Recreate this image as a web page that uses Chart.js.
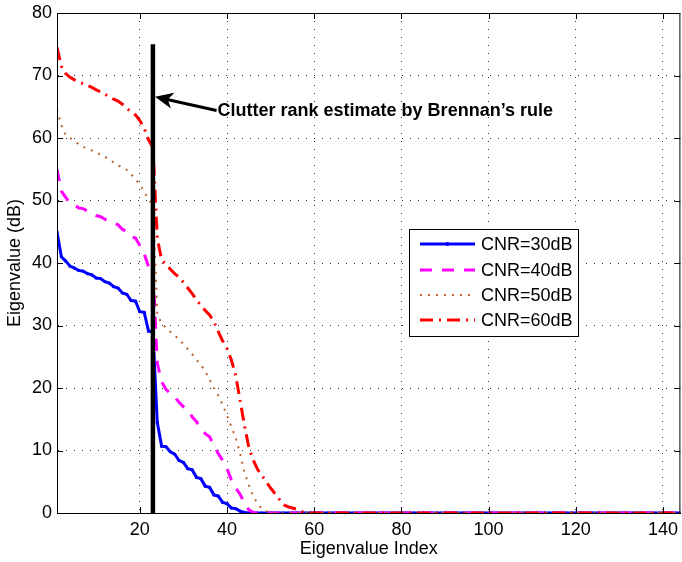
<!DOCTYPE html>
<html><head><meta charset="utf-8">
<script src="https://cdn.jsdelivr.net/npm/chart.js@4"></script>
<style>html,body{margin:0;padding:0;background:#fff}#wrap{width:682px;height:562px}</style>
</head><body><div id="wrap"><canvas id="c" width="682" height="562"></canvas></div>
<script>
const seriesLabels = ['CNR=30dB','CNR=40dB','CNR=50dB','CNR=60dB'];
const cnr30 = [45,41,40.3,39.5,39.2,38.8,38.7,38.3,38.1,37.6,37.5,37.0,36.8,36.2,36.0,35.2,35.0,34.0,33.9,32.2,32.1,29.1,29.0,14.5,10.7,10.6,9.8,9.4,8.4,8.1,7.1,6.9,5.7,5.5,4.3,4.1,2.9,2.7,1.7,1.5,0.8,0.7,0.3,0.1,0,
0,0,0,0,0,0,0,0,0,0,
0,0,0,0,0,0,0,0,0,0,
0,0,0,0,0,0,0,0,0,0,
0,0,0,0,0,0,0,0,0,0,
0,0,0,0,0,0,0,0,0,0,
0,0,0,0,0,0,0,0,0,0,
0,0,0,0,0,0,0,0,0,0,
0,0,0,0,0,0,0,0,0,0,
0,0,0,0,0,0,0,0,0,0,
0,0,0,0,0,0,0,0,0];
const cnr40 = [55,51.5,50.5,49.5,49.3,48.8,48.7,48.3,48.0,47.6,47.4,47.0,46.6,46.4,46.1,45.4,45.0,44.2,44.0,42.8,41.5,39.4,39.2,24.0,21.0,19.8,19.1,18.6,17.7,17.0,16.5,15.4,14.6,13.5,12.7,12.2,10.8,9.5,8.4,7.1,5.3,4.0,3.0,1.6,0.5,0.1,0,
0,0,0,0,0,0,0,0,0,0,
0,0,0,0,0,0,0,0,0,0,
0,0,0,0,0,0,0,0,0,0,
0,0,0,0,0,0,0,0,0,0,
0,0,0,0,0,0,0,0,0,0,
0,0,0,0,0,0,0,0,0,0,
0,0,0,0,0,0,0,0,0,0,
0,0,0,0,0,0,0,0,0,0,
0,0,0,0,0,0,0,0,0,0,
0,0,0,0,0,0,0];
const cnr50 = [64.5,62,60.5,60,59.5,59,58.6,58.3,58,57.7,57.3,57,56.5,56.1,55.7,55.2,54.9,54.2,53.4,52.6,51.4,50.2,49.3,32,30.2,29.7,29.0,28.4,27.8,27.0,26.2,25.4,24.5,23.7,22.7,21.3,20.0,18.8,17.3,15.6,13.8,12.0,9.5,6.5,4.5,2.7,1.5,0.7,0.3,0.1,0,
0,0,0,0,0,0,0,0,0,0,
0,0,0,0,0,0,0,0,0,0,
0,0,0,0,0,0,0,0,0,0,
0,0,0,0,0,0,0,0,0,0,
0,0,0,0,0,0,0,0,0,0,
0,0,0,0,0,0,0,0,0,0,
0,0,0,0,0,0,0,0,0,0,
0,0,0,0,0,0,0,0,0,0,
0,0,0,0,0,0,0,0,0,0,
0,0,0];
const cnr60 = [74.5,71.5,70.3,69.7,69.3,69.0,68.7,68.4,68.1,67.7,67.4,67.0,66.6,66.2,65.9,65.4,64.8,64.1,63.7,62.8,61.6,59.7,58.5,44,40.5,39.8,39.0,38.3,37.7,36.9,36.0,35.1,34.1,33.2,32.4,31.7,30.6,29.0,27.5,26.3,24.5,22.0,18.0,14.0,10.5,8.5,7.0,6.0,5.0,4.0,3.1,2.2,1.3,1.0,0.8,0.6,0.3,0,
0,0,0,0,0,0,0,0,0,0,
0,0,0,0,0,0,0,0,0,0,
0,0,0,0,0,0,0,0,0,0,
0,0,0,0,0,0,0,0,0,0,
0,0,0,0,0,0,0,0,0,0,
0,0,0,0,0,0,0,0,0,0,
0,0,0,0,0,0,0,0,0,0,
0,0,0,0,0,0,0,0,0,0,
0,0,0,0,0,0];
const rankIndex = 23;
const rankLineTop = 75;
const xTicks = [20,40,60,80,100,120,140];
const yTicks = [0,10,20,30,40,50,60,70,80];
const xRange = [1,144];
const yRange = [0,80];
const annotationText = 'Clutter rank estimate by Brennan\u2019s rule';
const arrowTip = {x:23.5, y:66.6};
const arrowTail = {x:37.6, y:64.4};
const xTitle = 'Eigenvalue Index';
const yTitle = 'Eigenvalue (dB)';

const toPts = v => v.map((y,i)=>({x:i+1,y}));

const styles = [
  {color:'#0000ff', dash:[], width:3, point:1.6},
  {color:'#ff00ff', dash:[12,10], width:3, point:0},
  {color:'#c06030', dash:[2,6], width:2, point:0},
  {color:'#ff0000', dash:[13,6,2,6], width:3, point:0}
];
const seriesValues = [cnr30,cnr40,cnr50,cnr60];
const datasets = seriesValues.map((v,k)=>({
  label: seriesLabels[k],
  data: toPts(v),
  borderColor: styles[k].color,
  backgroundColor: styles[k].color,
  borderDash: styles[k].dash,
  borderWidth: styles[k].width,
  pointRadius: styles[k].point,
  pointBorderWidth: 0,
  pointHoverRadius: 0,
  tension: 0,
  fill: false,
  order: 4-k
}));
datasets.push({
  label: 'rank',
  data: [{x:rankIndex,y:0},{x:rankIndex,y:rankLineTop}],
  borderColor:'#000', borderWidth:4.5, pointRadius:0, order:0, isRank:true
});

const FONT = '"Liberation Sans", Arial, Helvetica, sans-serif';

const boxPlugin = {
  id:'box',
  afterDatasetsDraw(chart){
    const {ctx, chartArea:a, scales:{x,y}} = chart;
    ctx.save();
    ctx.strokeStyle='#000'; ctx.lineWidth=1; ctx.setLineDash([]);
    ctx.strokeRect(a.left+0.5, a.top+0.5, a.right-a.left-1, a.bottom-a.top);
    ctx.beginPath();
    xTicks.forEach(v=>{const px=Math.round(x.getPixelForValue(v))+0.5;
      ctx.moveTo(px,a.bottom); ctx.lineTo(px,a.bottom-6);
      ctx.moveTo(px,a.top); ctx.lineTo(px,a.top+6);});
    yTicks.forEach(v=>{const py=Math.round(y.getPixelForValue(v))+0.5;
      ctx.moveTo(a.left,py); ctx.lineTo(a.left+6,py);
      ctx.moveTo(a.right,py); ctx.lineTo(a.right-6,py);});
    ctx.stroke();

    // annotation arrow
    const tx=x.getPixelForValue(arrowTip.x), ty=y.getPixelForValue(arrowTip.y);
    const sx=x.getPixelForValue(arrowTail.x), sy=y.getPixelForValue(arrowTail.y);
    const dx=tx-sx, dy=ty-sy, L=Math.hypot(dx,dy), ux=dx/L, uy=dy/L, nx=-uy, ny=ux;
    const hl=18, hw=8;
    ctx.lineWidth=3; ctx.lineCap='butt';
    ctx.beginPath(); ctx.moveTo(sx,sy); ctx.lineTo(tx-ux*10,ty-uy*10); ctx.stroke();
    ctx.fillStyle='#000';
    ctx.beginPath();
    ctx.moveTo(tx,ty);
    ctx.lineTo(tx-ux*hl+nx*hw, ty-uy*hl+ny*hw);
    ctx.lineTo(tx-ux*(hl-5), ty-uy*(hl-5));
    ctx.lineTo(tx-ux*hl-nx*hw, ty-uy*hl-ny*hw);
    ctx.closePath(); ctx.fill();
    ctx.font='bold 18px '+FONT; ctx.textBaseline='middle'; ctx.textAlign='left';
    ctx.fillText(annotationText, sx+1, sy+1);

    // legend
    const lx=409, ly=229, lw=169, lh=107;
    ctx.fillStyle='#fff'; ctx.fillRect(lx,ly,lw,lh);
    ctx.strokeStyle='#000'; ctx.lineWidth=1; ctx.strokeRect(lx+0.5,ly+0.5,lw,lh);
    const rows=[244,270,295,320];
    chart.data.datasets.forEach((ds,k)=>{
      if(ds.isRank) return;
      const ry=rows[k];
      ctx.strokeStyle=ds.borderColor; ctx.lineWidth=ds.borderWidth; ctx.setLineDash(ds.borderDash);
      ctx.beginPath(); ctx.moveTo(420,ry); ctx.lineTo(475,ry); ctx.stroke();
      ctx.setLineDash([]);
      if(ds.pointRadius>0){ctx.fillStyle=ds.borderColor; ctx.beginPath(); ctx.arc(447.5,ry,2,0,Math.PI*2); ctx.fill();}
      ctx.fillStyle='#000'; ctx.font='18px '+FONT; ctx.textBaseline='middle';
      ctx.fillText(ds.label, 481, ry+1);
    });
    ctx.restore();
  }
};

Chart.defaults.font.family = FONT;
Chart.defaults.font.size = 18;
Chart.defaults.color = '#000';

new Chart(document.getElementById('c'), {
  type:'line',
  data:{datasets},
  plugins:[boxPlugin],
  options:{
    responsive:false, animation:false, devicePixelRatio:1,
    layout:{padding:{top:13,right:1,left:0,bottom:0}},
    plugins:{legend:{display:false}, tooltip:{enabled:false}},
    scales:{
      x:{type:'linear', min:xRange[0], max:xRange[1],
        afterBuildTicks:s=>{s.ticks=xTicks.map(v=>({value:v}));},
        afterFit:s=>{s.height=49; s.paddingRight=0; s.paddingLeft=0;},
        ticks:{padding:6, maxRotation:0, autoSkip:false, font:{size:18}},
        grid:{color:'#333', lineWidth:1, drawTicks:false},
        border:{display:true, color:'#000', dash:[1,7]},
        title:{display:true, text:xTitle, font:{size:18}, padding:{top:0,bottom:2}}
      },
      y:{min:yRange[0], max:yRange[1],
        afterBuildTicks:s=>{s.ticks=yTicks.map(v=>({value:v}));},
        afterFit:s=>{s.width=57; s.paddingTop=0; s.paddingBottom=0;},
        ticks:{padding:5, font:{size:18}},
        grid:{color:'#333', lineWidth:1, drawTicks:false},
        border:{display:true, color:'#000', dash:[1,7]},
        title:{display:true, text:yTitle, font:{size:18}, padding:{top:4,bottom:0}}
      }
    }
  }
});
</script></body></html>
